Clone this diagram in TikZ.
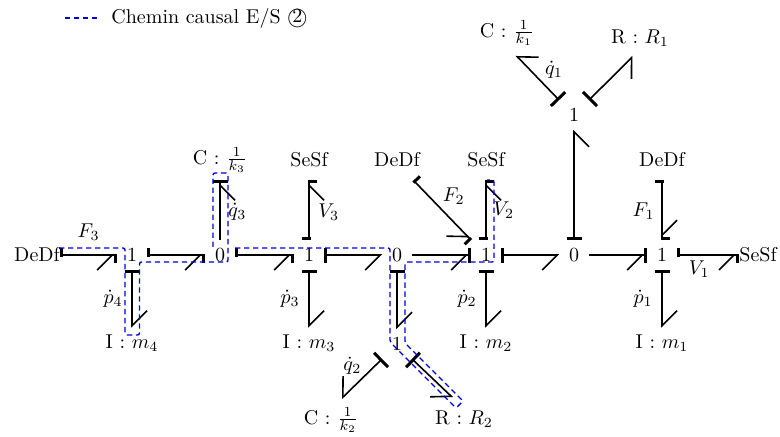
\documentclass[tikz,border=0pt]{standalone}
\usepackage{tikz}
\usetikzlibrary{arrows.meta,positioning,calc}
\usepackage{xcolor}
\usepackage{amsmath}
\definecolor{PathBlue}{RGB}{0,0,220}

\begin{document}
\begin{tikzpicture}[x=0.5pt,y=-0.5pt,
  junc/.style={inner sep=0pt,minimum size=14.5pt},
  elem/.style={inner xsep=0pt,inner ysep=0pt,minimum height=14pt},
  hook/.tip={Straight Barb[harpoon,swap,length=7.5pt,width=15pt,sep=0pt,line width=.8pt]},
  hookl/.tip={Straight Barb[harpoon,length=7.5pt,width=15pt,sep=0pt,line width=.8pt]},
  fullbar/.tip={Bar[width=7.5pt,line width=1.5pt,sep=0pt]},
  diagbar/.tip={Bar[width=10pt,line width=1.5pt,sep=0pt]},
  stub/.tip={Bar[width=7.5pt,line width=1.5pt,sep=0pt,harpoon]},
  stubs/.tip={Bar[width=7.5pt,line width=1.5pt,sep=0pt,harpoon,swap]},
  bond/.style={line width=.8pt},
  effort/.style={bond,{fullbar[]}-{hook[]}},
  effortd/.style={bond,{diagbar[]}-{hook[]}},
  flow/.style={bond,-{hook[] fullbar[]}},
  effortl/.style={bond,{fullbar[]}-{hookl[]}},
  source/.style={bond,{stubs[]}-{hook[] stubs[]}},
  sourcel/.style={bond,{stub[]}-{hookl[] stub[]}},
  causal/.style={PathBlue,dash pattern=on 2.7pt off 1.8pt,line width=.7pt,rounded corners=1pt},
]
\useasboundingbox (0,0) rectangle (780,436);
% junctions
\node[junc] (j1) at (132,255) {1};
\node[junc] (j2) at (220,255) {0};
\node[junc] (j3) at (309,255) {1};
\node[junc] (j4) at (397,255) {0};
\node[junc] (j5) at (486,255) {1};
\node[junc] (j6) at (574,255) {0};
\node[junc] (j7) at (662,255) {1};
\node[junc] (j8) at (574,115) {1};
\node[junc] (j9) at (397,344) {1};
% elements
\node[elem] (dd3) at (37,255) {DeDf};
\node[elem] (ss1) at (758,255) {SeSf};
\node[elem,minimum height=15pt] (i4) at (132,343) {I : $m_4$};
\node[elem,minimum height=15pt] (i3) at (309,343) {I : $m_3$};
\node[elem,minimum height=15pt] (i2) at (486,343) {I : $m_2$};
\node[elem,minimum height=15pt] (i1) at (662,343) {I : $m_1$};
\node[elem,minimum height=20pt] (c3) at (220,160) {C : $\frac{1}{k_3}$};
\node[elem,minimum height=20pt] (ss3) at (309,160) {SeSf};
\node[elem,minimum height=20pt] (dd2) at (397,160) {DeDf};
\node[elem,minimum height=20pt] (ss2) at (486,160) {SeSf};
\node[elem,minimum height=20pt] (dd1) at (662,160) {DeDf};
\node[elem,minimum height=22pt] (c1) at (507,33) {C : $\frac{1}{k_1}$};
\node[elem,minimum height=18pt] (r1) at (640,38) {R : $R_1$};
\node[elem,minimum height=21pt] (c2) at (331,420) {C : $\frac{1}{k_2}$};
\node[elem,minimum height=21pt] (r2) at (464,419) {R : $R_2$};
% bonds
\draw[source] (dd3) -- node[above=3.5pt]{$F_3$} (j1);
\draw[source] (j1) -- (j2);
\draw[source] (j2) -- (j3);
\draw[effort] (j3) -- (j4);
\draw[flow] (j4) -- (j5);
\draw[effort] (j5) -- (j6);
\draw[flow] (j6) -- (j7);
\draw[source] (j7) -- node[pos=.36,below=0pt,yshift=1pt]{$V_1$} (ss1);
\draw[effortl] (j1) -- node[left=1pt]{$\dot{p}_4$} (i4);
\draw[effortl] (j3) -- node[left=1pt]{$\dot{p}_3$} (i3);
\draw[effortl] (j5) -- node[left=1pt]{$\dot{p}_2$} (i2);
\draw[effortl] (j7) -- node[left=1pt]{$\dot{p}_1$} (i1);
\draw[flow] (j2) -- node[pos=.47,right=.5pt]{$\dot{q}_3$} (c3);
\draw[source] (j3) -- node[pos=.46,right=1pt]{$V_3$} (ss3);
\draw[source] (j5) -- node[pos=.5,right=0pt]{$V_2$} (ss2);
\draw[sourcel] (dd1) -- node[pos=.52,left=0pt]{$F_1$} (j7);
\draw[effortl] (j4) -- (j9);
\draw[source] (dd2.-51) -- node[above right,xshift=-3.5pt,yshift=-1pt]{$F_2$} (j5.north west);
\draw[effort] (j6) -- (j8);
\draw[effortd] (j8.north west) -- node[above right,yshift=-4pt]{$\dot{q}_1$} (c1.-68);
\draw[effortd] (j8.north east) -- (r1.-111);
\draw[effortd] (j9.south west) -- node[above left,xshift=3.5pt,yshift=-1.5pt]{$\dot{q}_2$} (c2.64);
\draw[effortd] (j9.south east) -- (r2.118);
% causal path
\draw[causal] (59,248) -- (125,248) -- (125,335) -- (139.5,335) -- (139.5,262)
  -- (228,262) -- (228,173) -- (213,173) -- (213,248);
\draw[causal] (235,248) -- (390,248) -- (390,342) -- (456,408) -- (463,401)
  -- (405,343) -- (405,262) -- (494,262) -- (494,180) -- (487,180);
% legend
\coordinate (lega) at (65,18);
\coordinate (legb) at (97,18);
\draw[causal] (lega) -- (legb);
\node[right=7pt of legb,inner sep=0pt] (legtext) {Chemin causal E/S \textcircled{2}};
\end{tikzpicture}
\end{document}
